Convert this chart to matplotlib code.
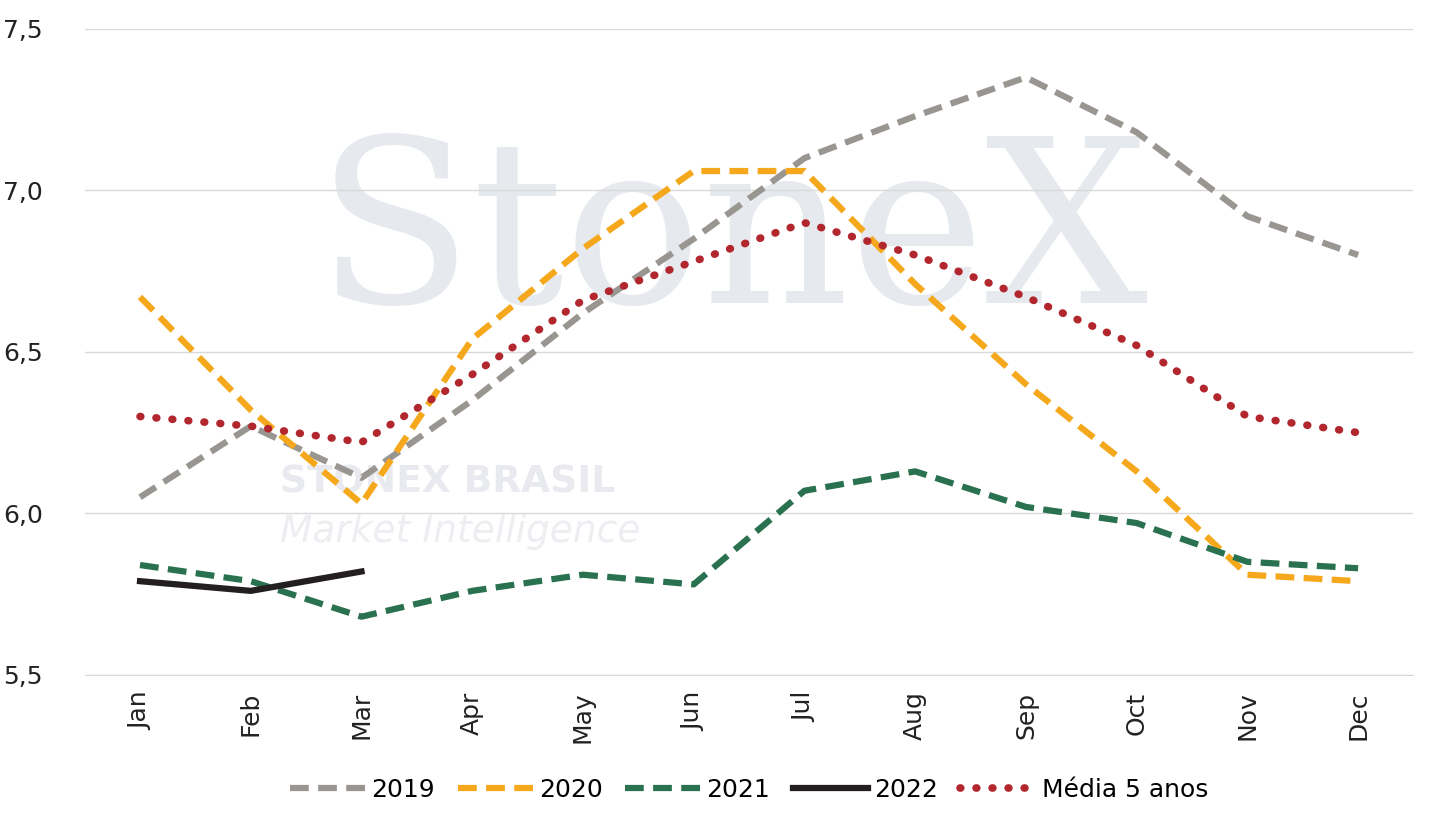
import matplotlib.pyplot as plt

months = ["Jan", "Feb", "Mar", "Apr", "May", "Jun", "Jul", "Aug", "Sep", "Oct", "Nov", "Dec"]
s2019 = [6.05, 6.27, 6.11, 6.35, 6.62, 6.85, 7.10, 7.23, 7.35, 7.18, 6.92, 6.80]
s2020 = [6.67, 6.32, 6.03, 6.54, 6.82, 7.06, 7.06, 6.71, 6.40, 6.13, 5.81, 5.79]
s2021 = [5.84, 5.79, 5.68, 5.76, 5.81, 5.78, 6.07, 6.13, 6.02, 5.97, 5.85, 5.83]
s2022 = [5.79, 5.76, 5.82]
media = [6.30, 6.27, 6.22, 6.43, 6.66, 6.78, 6.90, 6.80, 6.67, 6.52, 6.30, 6.25]

fig = plt.figure(figsize=(14.35, 8.27), dpi=100)
ax = fig.add_axes([0.059, 0.184, 0.926, 0.781])

# watermark, behind the lines
tf = fig.transFigure
ax.text(0.51, 0.71, "StoneX", fontsize=165, family="DejaVu Serif", color="#e6e9ee",
        ha="center", va="center", zorder=0, transform=tf)
ax.text(0.195, 0.405, "STONEX BRASIL", fontsize=27, weight="bold", color="#e8eaef",
        zorder=0, transform=tf)
ax.text(0.195, 0.345, "Market Intelligence", fontsize=27, style="italic", color="#eceef2",
        zorder=0, transform=tf)

x = list(range(len(months)))
dash = (0, (3, 1.5))
ax.plot(x, s2019, color="#999590", lw=4.5, ls=dash, label="2019", zorder=3)
ax.plot(x, s2020, color="#f5a81c", lw=4.5, ls=dash, label="2020", zorder=3)
ax.plot(x, s2021, color="#2a7150", lw=4.5, ls=dash, label="2021", zorder=3)
ax.plot(x[:len(s2022)], s2022, color="#231f20", lw=4.5, label="2022", zorder=3)
ax.plot(x, media, color="#b1272d", lw=5.5, ls=(0, (0.1, 2.0)), dash_capstyle="round",
        label="Média 5 anos", zorder=3)

ax.set_ylim(5.5, 7.5)
ax.set_xlim(-0.5, 11.5)
ax.set_yticks([5.5, 6.0, 6.5, 7.0, 7.5])
ax.set_yticklabels(["5,5", "6,0", "6,5", "7,0", "7,5"])
ax.set_xticks(x)
ax.set_xticklabels(months, rotation=90)
ax.tick_params(labelsize=18, length=0, colors="#222222")
ax.tick_params(axis="y", pad=30)
ax.tick_params(axis="x", pad=12)
ax.grid(axis="y", color="#d9d9d9", lw=1, zorder=1)
ax.set_axisbelow(True)
for s in ["top", "right", "left"]:
    ax.spines[s].set_visible(False)
ax.spines["bottom"].set_color("#d9d9d9")
ax.patch.set_alpha(0)

ax.legend(loc="upper center", bbox_to_anchor=(0.5, -0.125), ncol=5, frameon=False,
          fontsize=18, handlelength=3, columnspacing=0.9, handletextpad=0.25)
fig.savefig("out.png", dpi=100)
